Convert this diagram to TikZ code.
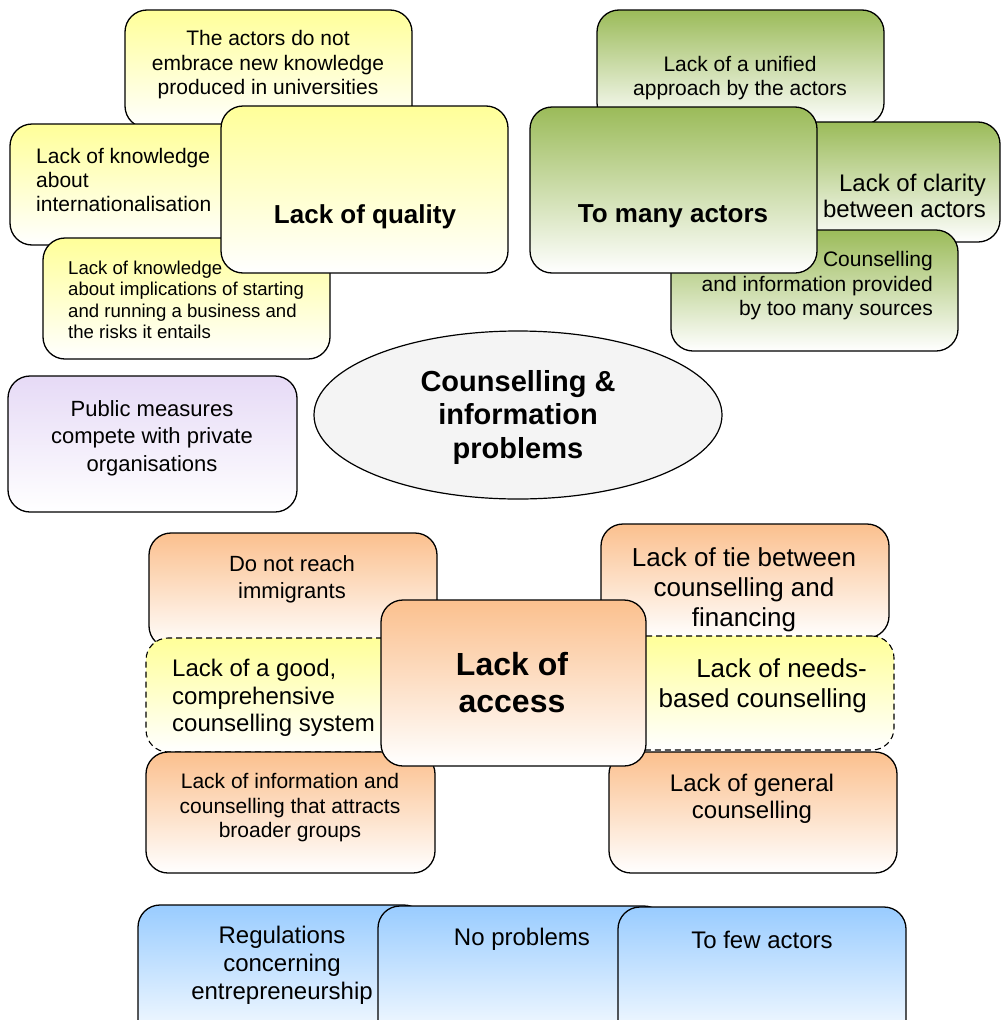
\documentclass[tikz,border=0pt]{standalone}
\usepackage{fontspec}
\setmainfont{Liberation Sans}
\usetikzlibrary{shapes.geometric}
\definecolor{yelc}{HTML}{FFFF99}
\definecolor{grnc}{HTML}{9BBB59}
\definecolor{orac}{HTML}{FBC08E}
\definecolor{purc}{HTML}{E6DAF6}
\definecolor{bluc}{HTML}{99CCFF}
\definecolor{ellc}{HTML}{F4F4F4}
\tikzset{
  box/.style={draw=black, line width=1.3pt, rounded corners=22pt, inner sep=0pt},
  yelbox/.style={box, top color=yelc, bottom color=white},
  grnbox/.style={box, top color=grnc, bottom color=white},
  orabox/.style={box, top color=orac, bottom color=white},
  purbox/.style={box, top color=purc, bottom color=white},
  blubox/.style={box, top color=bluc, bottom color=white},
  dashbox/.style={box, line width=1.1pt, dash pattern=on 6pt off 4pt, top color=yelc, bottom color=white},
  txt/.style={inner sep=0pt, align=center, yshift=-2.5pt},
  ltxt/.style={inner sep=0pt, align=left, yshift=-2.5pt},
  rtxt/.style={inner sep=0pt, align=right, yshift=-2.5pt},
}
% box from corner (x1,y1) to (x2,y2)
\newcommand\bx[6]{\node[#2, minimum width={#5-#3}, minimum height={#6-#4}] (#1) at ({(#3+#5)/2},{(#4+#6)/2}) {};}
\newcommand\fs[2]{\fontsize{#1}{#2}\selectfont}
\begin{document}
\begin{tikzpicture}[x=1pt, y=-1pt]
\useasboundingbox (0,0) rectangle (1001,1020);
\clip (0,0) rectangle (1001,1020);

% --- Lack of quality cluster
\bx{q1}{yelbox}{125}{10}{412}{128}
\node[txt, font=\fs{21}{24.5}] (q1t) at (268,62.5) {The actors do not\\embrace new knowledge\\produced in universities};
\bx{q2}{yelbox}{10}{124}{298}{245}
\node[ltxt, font=\fs{21}{24}, anchor=west] (q2t) at (36,177) {Lack of knowledge\\about\\internationalisation};
\bx{q3}{yelbox}{43}{238}{330}{359}
\node[ltxt, font=\fs{18.6}{21.5}, anchor=west] (q3t) at (68,297.5) {Lack of knowledge\\about implications of starting\\and running a business and\\the risks it entails};
\bx{quality}{yelbox}{221}{106}{508}{273}
\node[txt, font=\bfseries\fs{26}{30}] (qualityt) at (365,214) {Lack of quality};

% --- Too many actors cluster
\bx{a1}{grnbox}{597}{10}{884}{125}
\node[txt, font=\fs{21}{24.5}] (a1t) at (740,75.5) {Lack of a unified\\approach by the actors};
\bx{a2}{grnbox}{713}{122}{1000}{242}
\node[rtxt, font=\fs{24}{26}, anchor=east] (a2t) at (986,193) {Lack of clarity\\between actors};
\bx{a3}{grnbox}{671}{230}{958}{351}
\node[rtxt, font=\fs{21}{24.5}, anchor=east] (a3t) at (933,283.5) {Counselling\\and information provided\\by too many sources};
\bx{actors}{grnbox}{530}{107}{817}{273}
\node[txt, font=\bfseries\fs{26}{30}] (actorst) at (673,214) {To many actors};

% --- Public measures
\bx{pub}{purbox}{8}{376}{297}{512}
\node[txt, font=\fs{22}{27.5}] (pubt) at (152,435.5) {Public measures\\compete with private\\organisations};

% --- Central ellipse
\node[ellipse, draw=black, line width=1.2pt, fill=ellc, minimum width=408, minimum height=168, inner sep=0pt] (core) at (518,415) {};
\node[txt, font=\bfseries\fs{29}{33.5}] (coret) at (518,414.5) {Counselling \&\\information\\problems};

% --- Lack of access cluster
\bx{c1}{orabox}{149}{533}{437}{648}
\node[txt, font=\fs{22}{27}] (c1t) at (292,576.5) {Do not reach\\immigrants};
\bx{c2}{orabox}{601}{524}{889}{638}
\node[txt, font=\fs{26}{30}] (c2t) at (744,587) {Lack of tie between\\counselling and\\financing};
\bx{d1}{dashbox}{146}{638}{434}{752}
\node[ltxt, font=\fs{24}{27.5}, anchor=west] (d1t) at (172,695.5) {Lack of a good,\\comprehensive\\counselling system};
\bx{d2}{dashbox}{606}{636}{894}{750}
\node[rtxt, font=\fs{26}{30}, anchor=east] (d2t) at (867,683) {Lack of needs-\\based counselling};
\bx{c3}{orabox}{146}{752}{435}{873}
\node[txt, font=\fs{21}{24.5}] (c3t) at (290,805.5) {Lack of information and\\counselling that attracts\\broader groups};
\bx{c4}{orabox}{609}{752}{897}{873}
\node[txt, font=\fs{24}{27}] (c4t) at (752,796.5) {Lack of general\\counselling};
\bx{access}{orabox}{381}{600}{646}{766}
\node[txt, font=\bfseries\fs{32}{37}] (accesst) at (512,680.5) {Lack of\\access};

% --- Bottom row
\bx{b1}{blubox}{138}{905}{426}{1050}
\node[txt, font=\fs{24}{28}] (b1t) at (282,962.5) {Regulations\\concerning\\entrepreneurship};
\bx{b2}{blubox}{378}{906}{666}{1050}
\node[txt, font=\fs{24}{28}] (b2t) at (522,937) {No problems};
\bx{b3}{blubox}{618}{907}{906}{1050}
\node[txt, font=\fs{24}{28}] (b3t) at (762,937) {To few actors};
\end{tikzpicture}
\end{document}
